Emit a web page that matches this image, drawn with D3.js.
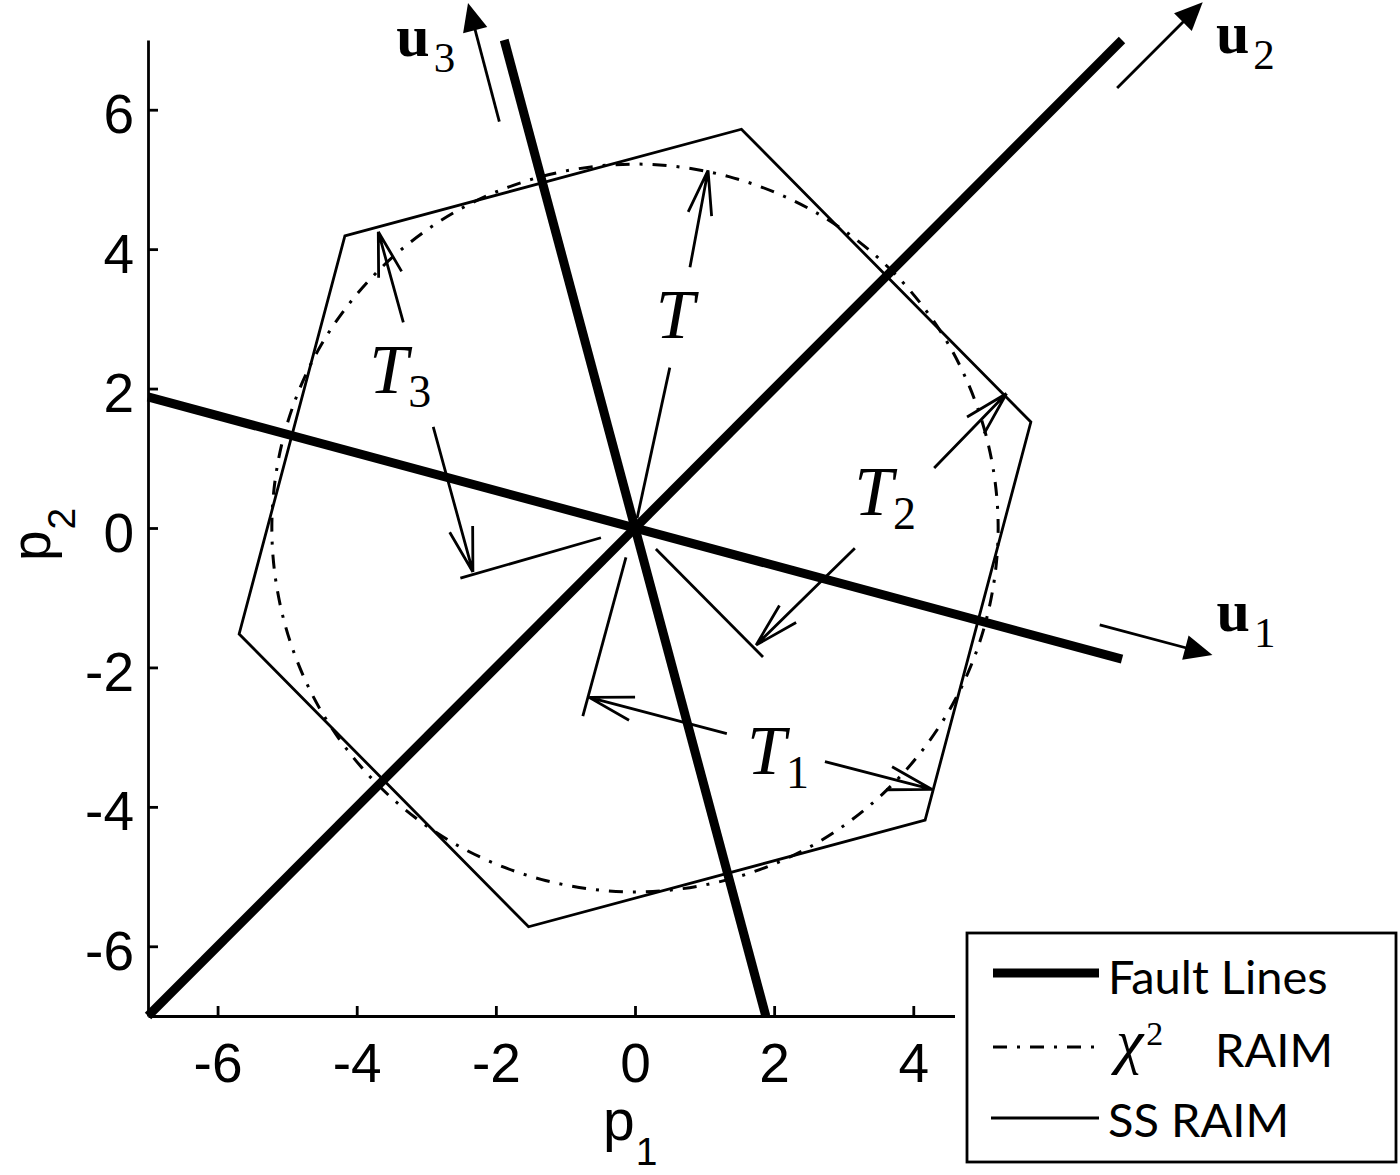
<!DOCTYPE html>
<html>
<head>
<meta charset="utf-8">
<script src="https://cdn.jsdelivr.net/npm/d3@7"></script>
<style>
body { margin: 0; background: #fff; }
</style>
</head>
<body>
<div id="vis"></div>
<script>
var width = 1400;
var height = 1175;

// tick values, same on both axes
var ticks = [-6, -4, -2, 0, 2, 4, 6];

// fault lines u1, u2, u3 through the origin: [x1, y1, x2, y2]
var faultLines = [
    [-7, 1.88, 7, -1.88],
    [-7, -7, 7, 7],
    [-1.88, 7, 1.88, -7]
];

// SS RAIM detection region (hexagon corners)
var ssRaim = [
    [-4.17, 4.19], [1.53, 5.72], [5.69, 1.52],
    [4.17, -4.19], [-1.53, -5.72], [-5.69, -1.52]
];

// chi-square RAIM boundary
var chi2Raim = [
    [5.22, 0], [5.04, 1.35], [4.52, 2.61], [3.69, 3.69], [2.61, 4.52], [1.35, 5.04],
    [0, 5.22], [-1.35, 5.04], [-2.61, 4.52], [-3.69, 3.69], [-4.52, 2.61], [-5.04, 1.35],
    [-5.22, 0], [-5.04, -1.35], [-4.52, -2.61], [-3.69, -3.69], [-2.61, -4.52], [-1.35, -5.04],
    [0, -5.22], [1.35, -5.04], [2.61, -4.52], [3.69, -3.69], [4.52, -2.61], [5.04, -1.35]
];

// direction arrows for u1, u2, u3: [x0, y0, xTip, yTip]
var uArrows = [
    [6.68, -1.39, 8.30, -1.82],
    [6.93, 6.31, 8.16, 7.54],
    [-1.95, 5.83, -2.40, 7.53]
];
var uNames = ['1', '2', '3'];
var uAnchors = [[8.36, -1.48], [8.35, 6.82], [-3.43, 6.77]];

// threshold construction lines without heads
var tSegments = [
    [0.03, 0.14, 0.50, 2.30],
    [-0.13, -0.42, -0.75, -2.70],
    [0.30, -0.30, 1.84, -1.85],
    [-0.49, -0.14, -2.51, -0.72]
];

// threshold arrows with open heads: [x0, y0, xTip, yTip]
var tArrows = [
    [0.79, 3.74, 1.05, 5.13],
    [1.32, -2.95, -0.66, -2.43],
    [2.73, -3.35, 4.27, -3.75],
    [4.30, 0.86, 5.34, 1.93],
    [3.16, -0.29, 1.74, -1.68],
    [-3.33, 2.95, -3.69, 4.25],
    [-2.90, 1.45, -2.33, -0.63]
];
var tNames = ['', '1', '2', '3'];
var tAnchors = [[0.30, 2.73], [1.61, -3.53], [3.15, 0.19], [-3.82, 1.93]];

var legendNames = ['Fault Lines', 'RAIM', 'SS RAIM'];

var serif = "'Liberation Serif', 'Times New Roman', serif";
var sans = "'Liberation Sans', Arial, sans-serif";
var legendFont = "Lato, 'Open Sans', sans-serif";
var thin = 2.8;

var svg = d3.select('#vis')
    .append('svg')
        .attr('width', width)
        .attr('height', height)
        .style('background', '#fff');

var x = d3.scaleLinear().domain([-7, 7]).range([148, 1122]);
var y = d3.scaleLinear().domain([-7, 7]).range([1016, 40]);

// chi-square curve
svg.append('path')
    .datum(chi2Raim)
    .attr('d', d3.line()
        .x(d => x(d[0]))
        .y(d => y(d[1]))
        .curve(d3.curveCatmullRomClosed))
    .attr('fill', 'none')
    .attr('stroke', '#000')
    .attr('stroke-width', 3)
    .attr('stroke-dasharray', '14,10,3,10');

// SS RAIM hexagon
svg.append('path')
    .datum(ssRaim)
    .attr('d', d3.line().x(d => x(d[0])).y(d => y(d[1])).curve(d3.curveLinearClosed))
    .attr('fill', 'none')
    .attr('stroke', '#000')
    .attr('stroke-width', thin)
    .attr('stroke-linejoin', 'miter');

// fault lines
svg.append('g')
    .selectAll('line')
    .data(faultLines)
    .enter()
    .append('line')
        .attr('x1', d => x(d[0]))
        .attr('y1', d => y(d[1]))
        .attr('x2', d => x(d[2]))
        .attr('y2', d => y(d[3]))
        .attr('stroke', '#000')
        .attr('stroke-width', 9);

// threshold construction
svg.append('g')
    .selectAll('line')
    .data(tSegments)
    .enter()
    .append('line')
        .attr('x1', d => x(d[0]))
        .attr('y1', d => y(d[1]))
        .attr('x2', d => x(d[2]))
        .attr('y2', d => y(d[3]))
        .attr('stroke', '#000')
        .attr('stroke-width', thin);

var openArrow = d => {
    var x0 = x(d[0]), y0 = y(d[1]), x1 = x(d[2]), y1 = y(d[3]);
    var a = Math.atan2(y0 - y1, x0 - x1);
    var len = 46, spread = 15 * Math.PI / 180;
    var b1 = [x1 + len * Math.cos(a + spread), y1 + len * Math.sin(a + spread)];
    var b2 = [x1 + len * Math.cos(a - spread), y1 + len * Math.sin(a - spread)];
    return 'M' + x0 + ',' + y0 + 'L' + x1 + ',' + y1 +
        'M' + b1[0] + ',' + b1[1] + 'L' + x1 + ',' + y1 +
        'M' + b2[0] + ',' + b2[1] + 'L' + x1 + ',' + y1;
};

svg.append('g')
    .selectAll('path')
    .data(tArrows)
    .enter()
    .append('path')
        .attr('d', openArrow)
        .attr('fill', 'none')
        .attr('stroke', '#000')
        .attr('stroke-width', thin);

// u direction arrows with filled heads
var filledHead = d => {
    var x0 = x(d[0]), y0 = y(d[1]), x1 = x(d[2]), y1 = y(d[3]);
    var a = Math.atan2(y0 - y1, x0 - x1);
    var len = 28, half = 12.5;
    var bx = x1 + len * Math.cos(a), by = y1 + len * Math.sin(a);
    var px = -Math.sin(a) * half, py = Math.cos(a) * half;
    return 'M' + x1 + ',' + y1 + 'L' + (bx + px) + ',' + (by + py) + 'L' + (bx - px) + ',' + (by - py) + 'Z';
};

var shaftEnd = d => {
    var a = Math.atan2(y(d[1]) - y(d[3]), x(d[0]) - x(d[2]));
    return [x(d[2]) + 20 * Math.cos(a), y(d[3]) + 20 * Math.sin(a)];
};

var uGroup = svg.append('g');
uGroup.selectAll('line')
    .data(uArrows)
    .enter()
    .append('line')
        .attr('x1', d => x(d[0]))
        .attr('y1', d => y(d[1]))
        .attr('x2', d => shaftEnd(d)[0])
        .attr('y2', d => shaftEnd(d)[1])
        .attr('stroke', '#000')
        .attr('stroke-width', thin);
uGroup.selectAll('path')
    .data(uArrows)
    .enter()
    .append('path')
        .attr('d', filledHead)
        .attr('fill', '#000');

// labels u_i
var uText = svg.append('g')
    .selectAll('text')
    .data(uNames)
    .enter()
    .append('text')
        .attr('x', (d, i) => x(uAnchors[i][0]))
        .attr('y', (d, i) => y(uAnchors[i][1]))
        .attr('font-family', serif);
uText.append('tspan')
    .attr('font-weight', 'bold')
    .attr('font-size', 60)
    .text('u');
uText.append('tspan')
    .attr('font-size', 43)
    .attr('dx', 4)
    .attr('dy', 16)
    .text(d => d);

// labels T, T_i
var tText = svg.append('g')
    .selectAll('text')
    .data(tNames)
    .enter()
    .append('text')
        .attr('x', (d, i) => x(tAnchors[i][0]))
        .attr('y', (d, i) => y(tAnchors[i][1]))
        .attr('font-family', serif);
tText.append('tspan')
    .attr('font-style', 'italic')
    .attr('font-size', 70)
    .text('T');
tText.append('tspan')
    .attr('font-size', 46)
    .attr('dx', 0)
    .attr('dy', 14)
    .text(d => d);

// axes
var fmt = d => String(d);

var yAxis = svg.append('g')
    .attr('transform', 'translate(' + x(-7) + ',0)')
    .call(d3.axisLeft(y).tickValues(ticks).tickFormat(fmt)
        .tickSizeInner(-10).tickSizeOuter(0).tickPadding(14));

var xAxis = svg.append('g')
    .attr('transform', 'translate(0,' + y(-7) + ')')
    .call(d3.axisBottom(x).tickValues(ticks).tickFormat(fmt)
        .tickSizeInner(-10).tickSizeOuter(0).tickPadding(27));

[xAxis, yAxis].forEach(g => {
    g.attr('font-family', sans).attr('font-size', 55);
    g.selectAll('path, line').attr('stroke', '#000').attr('stroke-width', 2.8);
    g.selectAll('text').attr('fill', '#000');
});
yAxis.selectAll('text').attr('dy', '0.42em');

// axis titles
var p1 = svg.append('text')
    .attr('x', 603)
    .attr('y', 1140)
    .attr('font-family', sans);
p1.append('tspan').attr('font-size', 57).text('p');
p1.append('tspan').attr('font-size', 39).attr('dx', 1).attr('dy', 25).text('1');

var p2 = svg.append('text')
    .attr('transform', 'translate(50,561) rotate(-90)')
    .attr('font-family', sans);
p2.append('tspan').attr('font-size', 55).text('p');
p2.append('tspan').attr('font-size', 39).attr('dx', 1).attr('dy', 25).text('2');

// legend
var legend = svg.append('g');
legend.append('rect')
    .attr('x', 955).attr('y', 925)
    .attr('width', 445).attr('height', 245)
    .attr('fill', '#fff');
legend.append('rect')
    .attr('x', 967).attr('y', 933)
    .attr('width', 429).attr('height', 229)
    .attr('fill', '#fff')
    .attr('stroke', '#000')
    .attr('stroke-width', 2.8);

legend.append('line')
    .attr('x1', 993).attr('x2', 1099).attr('y1', 973).attr('y2', 973)
    .attr('stroke', '#000').attr('stroke-width', 9);
legend.append('line')
    .attr('x1', 993).attr('x2', 1097).attr('y1', 1047).attr('y2', 1047)
    .attr('stroke', '#000').attr('stroke-width', 3)
    .attr('stroke-dasharray', '14,10,3,10');
legend.append('line')
    .attr('x1', 991).attr('x2', 1099).attr('y1', 1118).attr('y2', 1118)
    .attr('stroke', '#000').attr('stroke-width', thin);

legend.append('text')
    .attr('x', 1108).attr('y', 994)
    .attr('font-family', legendFont).attr('font-size', 47)
    .text(legendNames[0]);

var chiText = legend.append('text')
    .attr('x', 1116).attr('y', 1062)
    .attr('font-family', serif);
chiText.append('tspan').attr('font-size', 62).attr('font-style', 'italic').text('χ');
chiText.append('tspan').attr('font-size', 34).attr('dx', 3).attr('dy', -17).text('2');

legend.append('text')
    .attr('x', 1215).attr('y', 1067)
    .attr('font-family', legendFont).attr('font-size', 47)
    .text(legendNames[1]);

legend.append('text')
    .attr('x', 1108).attr('y', 1137)
    .attr('font-family', legendFont).attr('font-size', 47)
    .text(legendNames[2]);
</script>
</body>
</html>
